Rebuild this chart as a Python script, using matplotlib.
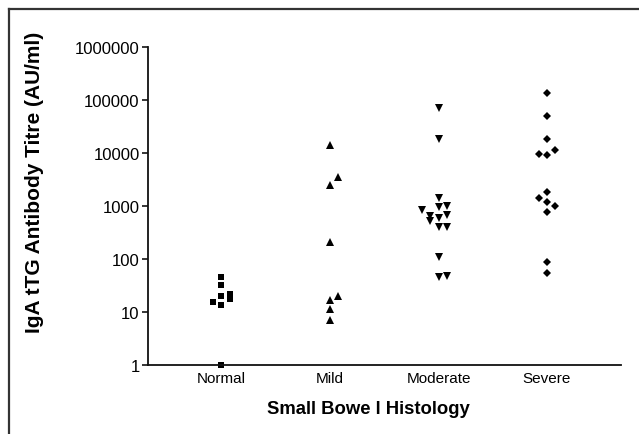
import matplotlib
matplotlib.use("Agg")
import matplotlib.pyplot as plt
from matplotlib.lines import Line2D
from matplotlib.ticker import FixedLocator, FixedFormatter, NullLocator

plt.rcParams['font.family'] = ['Liberation Sans', 'DejaVu Sans']

categories = ["Normal", "Mild", "Moderate", "Severe"]

normal_vals = [45, 31.7, 20, 21.2, 17.6, 15.1, 13.1, 1]
normal_off = [0, 0, 0, 1, 1, -1, 0, 0]

mild_vals = [14150, 3420, 2480, 210, 20, 16.3, 11, 6.8]
mild_off = [0, 1, 0, 0, 1, 0, 0, 0]

moderate_vals = [70100, 18100, 1387, 949, 992, 822, 641, 516, 598, 670,
                 397, 397, 108, 46, 47]
moderate_off = [0, 0, 0, 0, 1, -2, -1, -1, 0, 1, 0, 1, 0, 0, 1]

severe_vals = [136700, 49400, 18150, 11250, 9570, 9160, 1826, 1408, 1183,
               979, 764, 88, 54]
severe_off = [0, 0, 0, 1, -1, 0, 0, -1, 0, 1, 0, 0, 0]

ytick_vals = [1, 10, 100, 1000, 10000, 100000, 1000000]
ytick_labels = ["1", "10", "100", "1000", "10000", "100000", "1000000"]

W, H = 639, 435
fig = plt.figure(figsize=(W / 100, H / 100), dpi=100)
ax = fig.add_axes([148 / W, 1 - 365.5 / H, (621 - 148) / W, (365.5 - 48) / H])

step = 0.074
groups = [
    (normal_vals, normal_off, 's', 4.2),
    (mild_vals, mild_off, '^', 5.4),
    (moderate_vals, moderate_off, 'v', 5.4),
    (severe_vals, severe_off, 'D', 3.6),
]
for i, (vals, offs, mk, ms) in enumerate(groups):
    xs = [i + 1 + o * step for o in offs]
    ax.plot(xs, vals, linestyle='none', marker=mk, markersize=ms,
            color='black', markeredgewidth=0, clip_on=False)

ax.set_yscale('log')
ax.set_ylim(1, 1000000)
ax.set_xlim(0.3226, 4.682)
ax.yaxis.set_major_locator(FixedLocator(ytick_vals))
ax.yaxis.set_major_formatter(FixedFormatter(ytick_labels))
ax.yaxis.set_minor_locator(NullLocator())
ax.set_xticks([1, 2, 3, 4])
ax.set_xticklabels(categories)

for s in ['top', 'right']:
    ax.spines[s].set_visible(False)
for s in ['left', 'bottom']:
    ax.spines[s].set_linewidth(1.3)
    ax.spines[s].set_color('#111111')

ax.tick_params(axis='y', direction='out', length=4.5, width=1.1,
               labelsize=12, pad=1.5, colors='black')
ax.tick_params(axis='x', length=0, labelsize=11, pad=5, colors='black')

fig.text(35 / W, 1 - 182 / H, "IgA tTG Antibody Titre (AU/ml)",
         rotation=90, ha='center', va='center', fontsize=15,
         fontweight='bold')
fig.text(368.5 / W, 1 - 410 / H, "Small Bowe l Histology",
         ha='center', va='center', fontsize=13.3, fontweight='bold')

# outer frame (top and left edges)
fig.add_artist(Line2D([9 / W, 1], [1 - 10 / H, 1 - 10 / H],
                      transform=fig.transFigure, color='#333333', lw=1.6))
fig.add_artist(Line2D([9 / W, 9 / W], [1 - 10 / H, 0],
                      transform=fig.transFigure, color='#333333', lw=1.6))

fig.savefig("out.png", dpi=100)
